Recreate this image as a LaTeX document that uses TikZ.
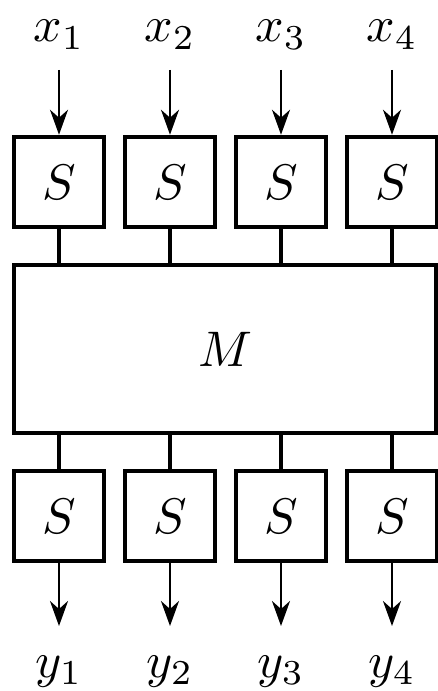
\documentclass[tikz,border=0pt]{standalone}
\usetikzlibrary{arrows.meta}
\begin{document}
\begin{tikzpicture}[x=0.2pt,y=-0.2pt,
  sbox/.style={draw, line width=0.9pt, minimum width=18pt, minimum height=18pt, inner sep=0pt},
  mbox/.style={draw, line width=0.9pt, minimum width=84.4pt, minimum height=33.6pt, inner sep=0pt},
  link/.style={line width=0.9pt},
  flow/.style={line width=0.5pt, -{Stealth[length=5pt,width=3.6pt,inset=1.6pt]}},
  lab/.style={anchor=base, inner sep=0pt}]
\useasboundingbox (0,0) rectangle (438,691);
\node[mbox] (M) at (225,349) {$M$};
\foreach \i/\x in {1/59,2/170,3/281,4/392}{
  \node[sbox] (t\i) at (\x,182) {$S$};
  \node[sbox] (b\i) at (\x,516) {$S$};
  \node[lab] (x\i) at (\x,42) {$x_\i$};
  \node[lab] (y\i) at (\x,677) {$y_\i$};
  \coordinate (ia\i) at (\x,70);
  \coordinate (oa\i) at (\x,626);
  \draw[flow] (ia\i) -- (t\i.north);
  \draw[flow] (b\i.south) -- (oa\i);
  \draw[link] (t\i.south) -- (t\i.south |- M.north);
  \draw[link] (b\i.north) -- (b\i.north |- M.south);
}
\end{tikzpicture}
\end{document}
